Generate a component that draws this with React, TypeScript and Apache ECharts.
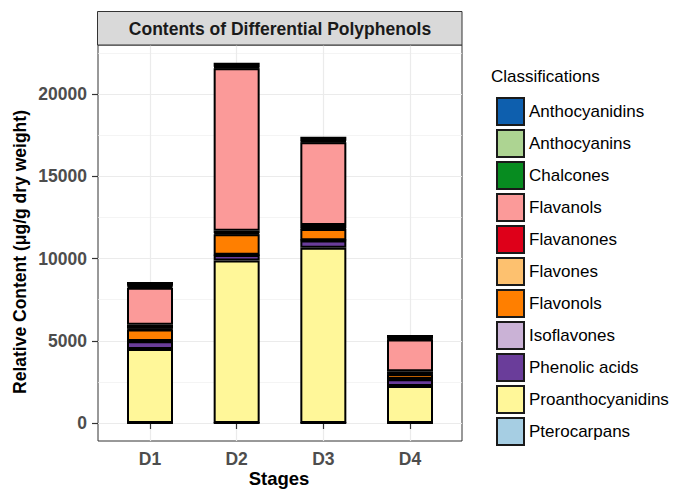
import React, { useEffect, useRef } from "react";
import * as echarts from "echarts";

const stages = ["D1", "D2", "D3", "D4"];
const stagePositions = [1, 2, 3, 4];

const classifications = [
  "Anthocyanidins",
  "Anthocyanins",
  "Chalcones",
  "Flavanols",
  "Flavanones",
  "Flavones",
  "Flavonols",
  "Isoflavones",
  "Phenolic acids",
  "Proanthocyanidins",
  "Pterocarpans",
];

const classColors = [
  "#0E5FAE",
  "#ADD492",
  "#078C20",
  "#FB9A99",
  "#DE0019",
  "#FDC16F",
  "#FF7F00",
  "#CAB2D6",
  "#6A3D9A",
  "#FFF799",
  "#A6CEE3",
];

// values per classification for D1..D4 (µg/g dry weight)
const anthocyanidins = [220, 240, 240, 200];
const anthocyanins = [50, 40, 40, 30];
const chalcones = [80, 60, 50, 40];
const flavanols = [2250, 9880, 5040, 1940];
const flavanones = [250, 150, 200, 150];
const flavones = [40, 60, 40, 20];
const flavonols = [700, 1250, 680, 300];
const isoflavones = [10, 15, 10, 5];
const phenolicAcids = [470, 330, 440, 420];
const proanthocyanidins = [4500, 9880, 10660, 2240];
const pterocarpans = [5, 5, 5, 5];

const classValues = [
  anthocyanidins,
  anthocyanins,
  chalcones,
  flavanols,
  flavanones,
  flavones,
  flavonols,
  isoflavones,
  phenolicAcids,
  proanthocyanidins,
  pterocarpans,
];

const yMajorTicks = [0, 5000, 10000, 15000, 20000];
const yMinorTicks = [2500, 7500, 12500, 17500, 22500];

const FONT = "'Liberation Sans', Arial, Helvetica, sans-serif";

const Y_MIN = -1095;
const Y_MAX = 22990;

export default function App() {
  const ref = useRef<HTMLDivElement>(null);

  useEffect(() => {
    if (!ref.current) return;
    const chart = echarts.init(ref.current, null, { renderer: "svg" });

    const panelLeft = 98;
    const panelRight = 462;
    const top = 45;
    const bottomEdge = 441;
    const unit = (panelRight - panelLeft) / 4.2;

    // stack bottom first: reverse of the legend order
    const series = classifications
      .map((name, idx) => ({
        name,
        type: "bar" as const,
        stack: "total",
        barWidth: 46,
        xAxisIndex: 1,
        yAxisIndex: 2,
        itemStyle: {
          color: classColors[idx],
          borderColor: "#000",
          borderWidth: 2,
        },
        emphasis: { disabled: true },
        data: classValues[idx],
      }))
      .reverse();

    chart.setOption({
      animation: false,
      backgroundColor: "#fff",
      textStyle: { fontFamily: FONT },
      grid: [
        {
          left: panelLeft,
          top,
          right: 673 - panelRight,
          bottom: 489 - bottomEdge,
          show: true,
          borderColor: "#333",
          borderWidth: 1,
          backgroundColor: "#fff",
          z: 0,
        },
        {
          left: panelLeft + 0.1 * unit,
          top,
          right: 673 - (panelRight - 0.1 * unit),
          bottom: 489 - bottomEdge,
        },
      ],
      xAxis: [
        {
          type: "value",
          gridIndex: 0,
          min: 0.4,
          max: 4.6,
          axisLine: { show: false },
          axisTick: {
            show: true,
            customValues: stagePositions,
            length: 6,
            lineStyle: { color: "#333", width: 1.2 },
          },
          axisLabel: {
            customValues: stagePositions,
            formatter: (v: number) => stages[Math.round(v) - 1] ?? "",
            margin: 9,
            fontSize: 17.5,
            fontWeight: "bold",
            color: "#4D4D4D",
            fontFamily: FONT,
          },
          splitLine: { show: true, lineStyle: { color: "#EBEBEB", width: 1.2 } },
        },
        {
          type: "category",
          gridIndex: 1,
          data: stages,
          show: false,
        },
      ],
      yAxis: [
        {
          type: "value",
          gridIndex: 0,
          min: Y_MIN,
          max: Y_MAX,
          axisLine: { show: false },
          axisTick: {
            show: true,
            customValues: yMajorTicks,
            length: 6,
            lineStyle: { color: "#333", width: 1.2 },
          },
          axisLabel: {
            customValues: yMajorTicks,
            formatter: (v: number) => String(Math.round(v)),
            margin: 11,
            fontSize: 17.5,
            fontWeight: "bold",
            color: "#4D4D4D",
            fontFamily: FONT,
          },
          splitLine: { show: true, lineStyle: { color: "#EBEBEB", width: 1.2 } },
        },
        {
          type: "value",
          gridIndex: 0,
          min: Y_MIN,
          max: Y_MAX,
          position: "left",
          axisLine: { show: false },
          axisTick: { show: false, customValues: yMinorTicks },
          axisLabel: { show: false, customValues: yMinorTicks },
          splitLine: { show: true, lineStyle: { color: "#EFEFEF", width: 0.7 } },
        },
        {
          type: "value",
          gridIndex: 1,
          min: Y_MIN,
          max: Y_MAX,
          show: false,
        },
      ],
      legend: {
        orient: "vertical",
        left: 491,
        top: 92,
        itemWidth: 27,
        itemHeight: 27,
        itemGap: 3,
        icon: "rect",
        selectedMode: false,
        data: classifications,
        itemStyle: { borderColor: "#1a1a1a", borderWidth: 2 },
        textStyle: {
          fontSize: 17,
          color: "#000",
          fontFamily: FONT,
        },
      },
      graphic: [
        {
          type: "rect",
          shape: { x: 97.5, y: 11.5, width: 364.5, height: 33.5 },
          style: { fill: "#D9D9D9", stroke: "#333", lineWidth: 1 },
          z: 10,
        },
        {
          type: "text",
          x: 280,
          y: 28.5,
          style: {
            text: "Contents of Differential Polyphenols",
            fontSize: 17.5,
            fontWeight: "bold",
            fill: "#1a1a1a",
            fontFamily: FONT,
            align: "center",
            verticalAlign: "middle",
          },
          z: 11,
        },
        {
          type: "text",
          x: 491,
          y: 76,
          style: {
            text: "Classifications",
            fontSize: 17,
            fill: "#000",
            fontFamily: FONT,
            align: "left",
            verticalAlign: "middle",
          },
        },
        {
          type: "text",
          x: 279,
          y: 478,
          style: {
            text: "Stages",
            fontSize: 18.5,
            fontWeight: "bold",
            fill: "#000",
            fontFamily: FONT,
            align: "center",
            verticalAlign: "middle",
          },
        },
        {
          type: "text",
          x: 20,
          y: 252,
          rotation: Math.PI / 2,
          style: {
            text: "Relative Content (μg/g dry weight)",
            fontSize: 17.5,
            fontWeight: "bold",
            fill: "#000",
            fontFamily: FONT,
            align: "center",
            verticalAlign: "middle",
          },
        },
      ],
      series,
    });

    return () => {
      chart.dispose();
    };
  }, []);

  return (
    <div
      ref={ref}
      style={{ position: "absolute", left: 0, top: 0, width: 673, height: 489 }}
    />
  );
}
